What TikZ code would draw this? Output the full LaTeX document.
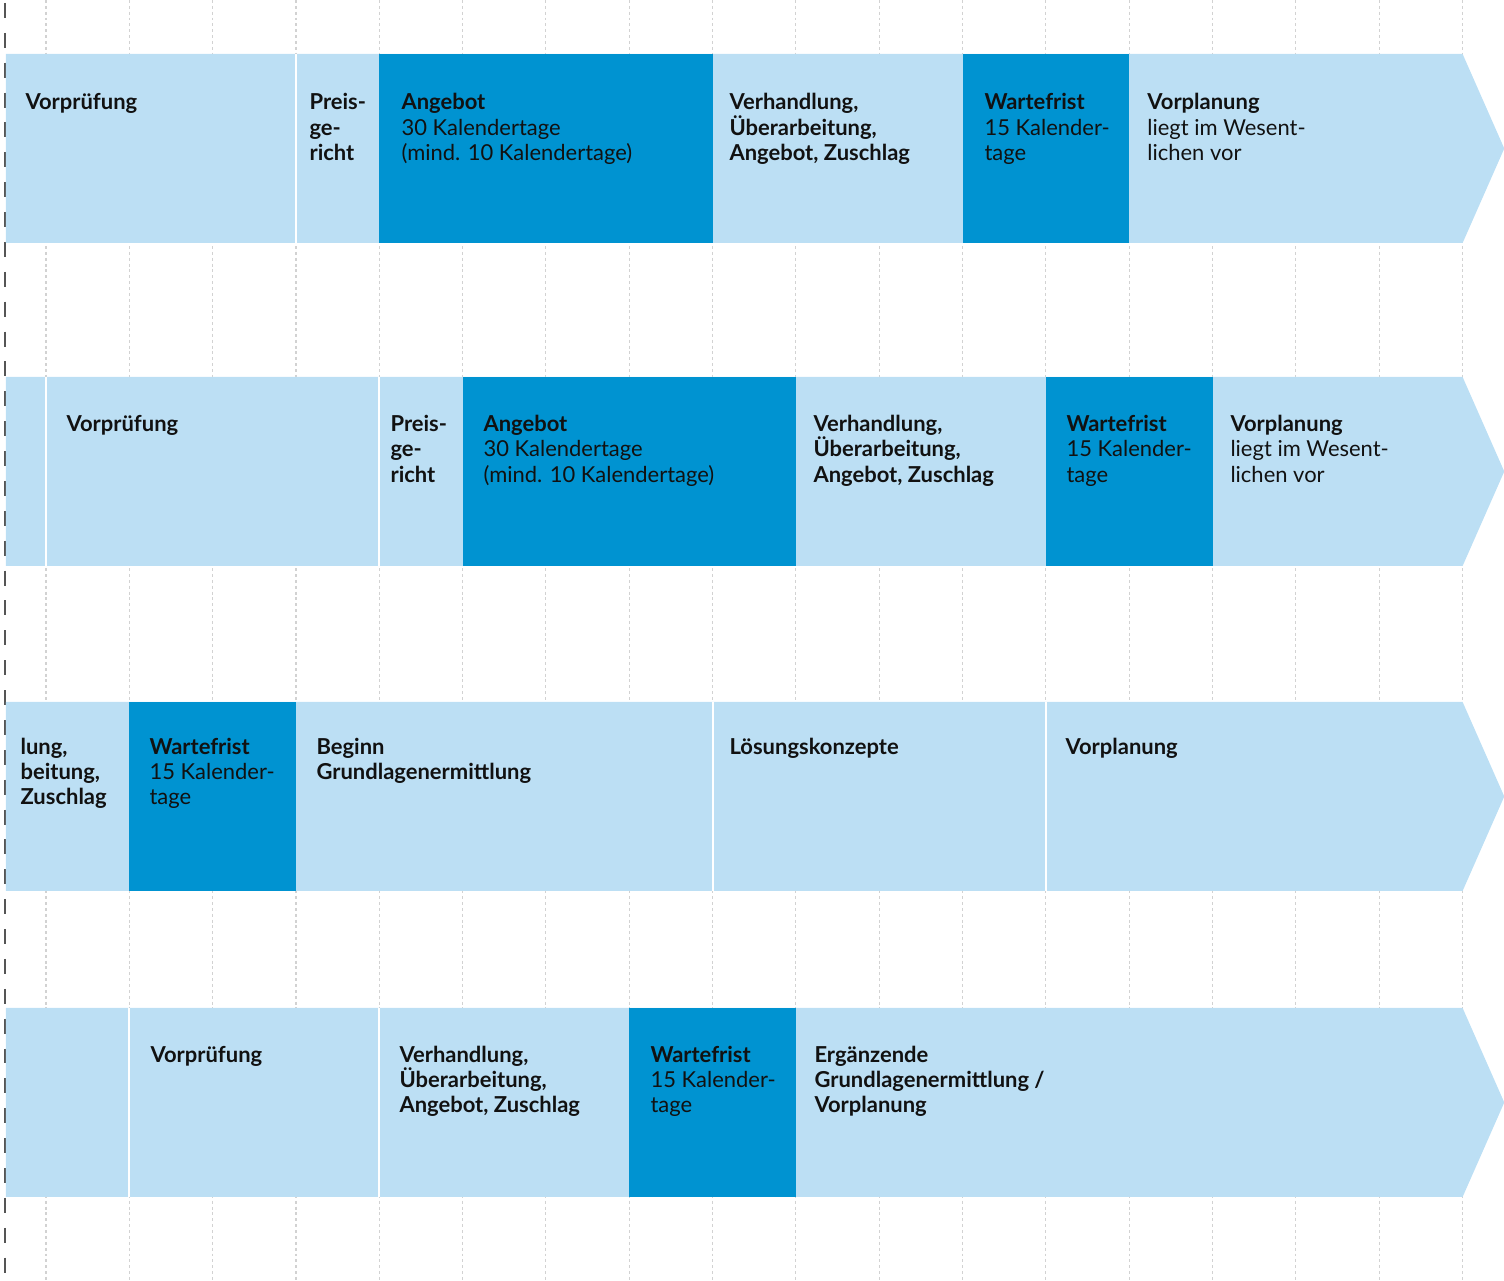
\documentclass[tikz,border=0pt]{standalone}
\usepackage{fontspec}
\setmainfont{Lato}
\usepackage{tikz}
\definecolor{paleblue}{HTML}{BCDFF4}
\definecolor{deepblue}{HTML}{0093D1}
\definecolor{axisgray}{HTML}{555555}
\definecolor{gridgray}{HTML}{D2D2D2}
\definecolor{ink}{HTML}{111111}
% lines of a phase label, first baseline on top, fixed line pitch
\newcommand{\ptext}[1]{\vtop{\let\\\cr\lineskiplimit=-\maxdimen
  \halign{##\hfil\cr#1\crcr}}}
\tikzset{
  gridline/.style={gridgray, line width=0.35pt, dash pattern=on 1pt off 1pt},
  axisline/.style={axisgray, line width=0.55pt, dash pattern=on 5.1pt off 5.1pt},
  sepline/.style={white, line width=0.7pt},
  lbl/.style={anchor=base west, inner sep=0pt, text=ink,
              font=\fontsize{7.5pt}{8.54pt}\selectfont},
  lblB/.style={lbl, font=\fontsize{7.5pt}{8.54pt}\selectfont\bfseries},
}

\begin{document}
\begin{tikzpicture}
  \useasboundingbox (-0.552,0) rectangle (17.497,-15.372);

  %% Grid and left axis
  \foreach \k in {0,...,17}{
    \draw[gridline] (\k,0) -- (\k,-15.372);
  }
  \draw[axisline] (-0.495,-0.036) -- (-0.495,-15.372);

  %% Bars (one per scenario)
  \foreach \t in {-0.648,-4.524,-8.424,-12.096}{
    \fill[paleblue] (-0.48,\t) -- (17,\t) -- (17.5,{\t-1.134})
      -- (17,{\t-2.268}) -- (-0.48,{\t-2.268}) -- cycle;
  }

  %% Dark phases
  \foreach \a/\b/\t in {4/8/-0.648, 11/13/-0.648, 5/9/-4.524, 12/14/-4.524,
                        1/3/-8.424, 7/9/-12.096}{
    \fill[deepblue] (\a,\t) rectangle (\b,{\t-2.268});
  }

  %% White separators
  \foreach \a/\t in {3/-0.648, 0/-4.524, 4/-4.524, 8/-8.424, 12/-8.424,
                     1/-12.096, 4/-12.096}{
    \draw[sepline] (\a,\t) -- (\a,{\t-2.268});
  }

  %% Row 1
  \node[lblB] (vpA) at (-0.252,-1.32) {Vorprüfung};
  \node[lblB] (pgA) at (3.156,-1.32) {\ptext{Preis-\\ge-\\richt}};
  \node[lbl] (agA) at (4.26,-1.32) {\ptext{\textbf{Angebot}\\30 Kalendertage\\(mind. 10 Kalendertage)}};
  \node[lblB] (vhA) at (8.196,-1.32) {\ptext{Verhandlung,\\Überarbeitung,\\Angebot, Zuschlag}};
  \node[lbl] (wfA) at (11.256,-1.32) {\ptext{\textbf{Wartefrist}\\15 Kalender-\\tage}};
  \node[lbl] (plA) at (13.21,-1.32) {\ptext{\textbf{Vorplanung}\\liegt im Wesent-\\lichen vor}};

  %% Row 2
  \node[lblB] (vpB) at (0.24,-5.184) {Vorprüfung};
  \node[lblB] (pgB) at (4.128,-5.184) {\ptext{Preis-\\ge-\\richt}};
  \node[lbl] (agB) at (5.244,-5.184) {\ptext{\textbf{Angebot}\\30 Kalendertage\\(mind. 10 Kalendertage)}};
  \node[lblB] (vhB) at (9.204,-5.184) {\ptext{Verhandlung,\\Überarbeitung,\\Angebot, Zuschlag}};
  \node[lbl] (wfB) at (12.24,-5.184) {\ptext{\textbf{Wartefrist}\\15 Kalender-\\tage}};
  \node[lbl] (plB) at (14.208,-5.184) {\ptext{\textbf{Vorplanung}\\liegt im Wesent-\\lichen vor}};

  %% Row 3
  \node[lblB] (vhC) at (-0.312,-9.06) {\ptext{lung,\\beitung,\\Zuschlag}};
  \node[lbl] (wfC) at (1.236,-9.06) {\ptext{\textbf{Wartefrist}\\15 Kalender-\\tage}};
  \node[lblB] (bgC) at (3.24,-9.06) {\ptext{Beginn\\Grundlagenermittlung}};
  \node[lblB] (lkC) at (8.196,-9.06) {Lösungskonzepte};
  \node[lblB] (plC) at (12.228,-9.06) {Vorplanung};

  %% Row 4
  \node[lblB] (vpD) at (1.248,-12.756) {Vorprüfung};
  \node[lblB] (vhD) at (4.236,-12.756) {\ptext{Verhandlung,\\Überarbeitung,\\Angebot, Zuschlag}};
  \node[lbl] (wfD) at (7.248,-12.756) {\ptext{\textbf{Wartefrist}\\15 Kalender-\\tage}};
  \node[lblB] (egD) at (9.216,-12.756) {\ptext{Ergänzende\\Grundlagenermittlung /\\Vorplanung}};

\end{tikzpicture}
\end{document}
